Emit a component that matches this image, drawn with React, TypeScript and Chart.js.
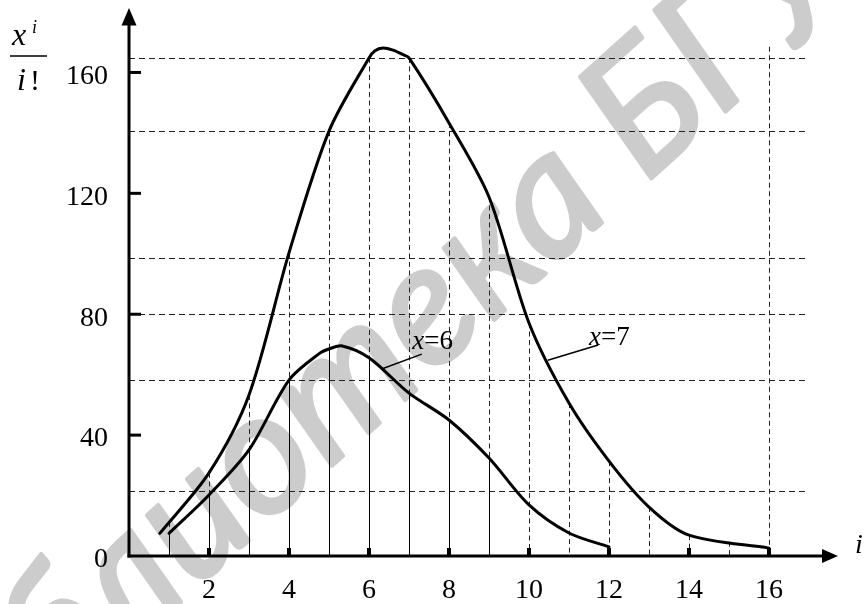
import React, { useEffect, useRef } from "react";
import { Chart, registerables } from "chart.js";

Chart.register(...registerables);

// ---- data ----
// curve x = 7  (values of x^i / i!)
const iX7 = [0.77, 2, 3, 4, 5, 6, 6.15, 6.35, 6.6, 6.85, 7, 8, 9, 10, 11, 12, 13, 14, 16];
const vX7 = [7.5, 27.5, 53.3, 100.3, 140.6, 164.8, 167.2, 168.1, 167.4, 165.9, 164.8, 143.3, 118.8, 77.1, 50.6, 31.4, 16.2, 6.9, 2.6];
// curve x = 6
const iX6 = [1, 2, 3, 4, 4.78, 5, 5.33, 6, 7, 8, 9, 10, 11, 12];
const vX6 = [7.5, 20.2, 35.1, 58.2, 67.2, 68.5, 69.5, 65.6, 53.9, 45, 32.4, 16.9, 7.6, 3];

const xTicks = [2, 4, 6, 8, 10, 12, 14, 16];
const yTicks = [0, 40, 80, 120, 160];
const xTickMarks = [2, 4, 6, 8, 10, 12, 14, 16];
const yTickMarks = [40, 80, 120, 160];

// dashed reference levels and vertical drop lines
const refLevels = [164.8, 140.6, 98.6, 80, 58.2, 21.5];
const gridI = [1, 2, 3, 4, 5, 6, 7, 8, 9, 10, 11, 12, 13, 14, 15, 16];
const refLineEnd = 16.9;
const lastGridTop = 168.5;
const solidBelowUpTo = 9;

const labelX6 = "x=6";
const labelX7 = "x=7";
const watermark = "Библиотека БГУИР";

const SERIF = '"Liberation Serif", "Times New Roman", serif';
const WM_FONT = 'Lato, "Liberation Sans", sans-serif';

function valueAt(xs: number[], ys: number[], v: number): number | null {
  if (v < xs[0] || v > xs[xs.length - 1]) return null;
  for (let k = 0; k < xs.length - 1; k++) {
    if (v >= xs[k] && v <= xs[k + 1]) {
      const t = (v - xs[k]) / (xs[k + 1] - xs[k]);
      return ys[k] + t * (ys[k + 1] - ys[k]);
    }
  }
  return ys[ys.length - 1];
}

function line(ctx: CanvasRenderingContext2D, x1: number, y1: number, x2: number, y2: number) {
  ctx.beginPath();
  ctx.moveTo(x1, y1);
  ctx.lineTo(x2, y2);
  ctx.stroke();
}

function drawMixedLabel(ctx: CanvasRenderingContext2D, text: string, x: number, y: number, size: number) {
  const first = text.slice(0, 1);
  const rest = text.slice(1);
  ctx.textAlign = "left";
  ctx.textBaseline = "alphabetic";
  ctx.font = `italic ${size}px ${SERIF}`;
  ctx.fillText(first, x, y);
  const w = ctx.measureText(first).width;
  ctx.font = `${size}px ${SERIF}`;
  ctx.fillText(rest, x + w, y);
}

const decor = {
  id: "decor",
  beforeDraw(chart: any) {
    const ctx: CanvasRenderingContext2D = chart.ctx;
    ctx.save();
    ctx.fillStyle = "#ffffff";
    ctx.fillRect(0, 0, chart.width, chart.height);
    // watermark
    ctx.font = `italic 172px ${WM_FONT}`;
    const splitAt = watermark.indexOf(" ") + 1;
    const pre = watermark.slice(0, splitAt);
    const w = ctx.measureText(pre).width;
    ctx.translate(645, 184);
    ctx.rotate((-42 * Math.PI) / 180);
    ctx.fillStyle = "#cccccc";
    ctx.strokeStyle = "#cccccc";
    ctx.lineWidth = 4;
    ctx.lineJoin = "round";
    ctx.textBaseline = "alphabetic";
    ctx.textAlign = "left";
    ctx.fillText(watermark, -w, 0);
    ctx.strokeText(watermark, -w, 0);
    ctx.restore();
  },
  beforeDatasetsDraw(chart: any) {
    const ctx: CanvasRenderingContext2D = chart.ctx;
    const xs = chart.scales.x;
    const ys = chart.scales.y;
    ctx.save();
    ctx.lineWidth = 1;
    ctx.strokeStyle = "#222";
    // horizontal dashed levels
    ctx.setLineDash([6, 4]);
    const x0 = xs.getPixelForValue(0);
    const xe = xs.getPixelForValue(refLineEnd);
    for (const v of refLevels) {
      const py = Math.round(ys.getPixelForValue(v)) + 0.5;
      line(ctx, x0, py, xe, py);
    }
    // vertical drop lines
    const y0 = ys.getPixelForValue(0);
    for (const i of gridI) {
      const px = Math.round(xs.getPixelForValue(i)) + 0.5;
      const top = i === gridI[gridI.length - 1] ? lastGridTop : valueAt(iX7, vX7, i);
      const low = valueAt(iX6, vX6, i);
      const pTop = ys.getPixelForValue(top ?? 0);
      if (low !== null && i <= solidBelowUpTo) {
        const pLow = ys.getPixelForValue(low);
        ctx.setLineDash([5, 3.5]);
        ctx.strokeStyle = "#222";
        if (pLow - pTop > 2) line(ctx, px, pTop, px, pLow);
        ctx.setLineDash([]);
        ctx.strokeStyle = "#000";
        line(ctx, px, pLow, px, y0);
      } else {
        ctx.setLineDash([5, 3.5]);
        ctx.strokeStyle = "#222";
        line(ctx, px, pTop, px, y0);
      }
    }
    ctx.restore();
  },
  afterDatasetsDraw(chart: any) {
    const ctx: CanvasRenderingContext2D = chart.ctx;
    const xs = chart.scales.x;
    const ys = chart.scales.y;
    const area = chart.chartArea;
    const ax = xs.getPixelForValue(0);
    const ay = ys.getPixelForValue(0);
    ctx.save();
    ctx.setLineDash([]);
    ctx.strokeStyle = "#000";
    ctx.fillStyle = "#000";
    // axes
    ctx.lineWidth = 3;
    line(ctx, ax, ay + 1.5, ax, area.top - 2);
    line(ctx, ax - 1.5, ay, area.right - 4, ay);
    // arrows
    ctx.beginPath();
    ctx.moveTo(ax, area.top - 16);
    ctx.lineTo(ax - 7.5, area.top + 1.5);
    ctx.lineTo(ax + 7.5, area.top + 1.5);
    ctx.closePath();
    ctx.fill();
    ctx.beginPath();
    ctx.moveTo(area.right + 9, ay);
    ctx.lineTo(area.right - 7, ay - 7);
    ctx.lineTo(area.right - 7, ay + 7);
    ctx.closePath();
    ctx.fill();
    // tick marks
    for (const v of yTickMarks) {
      const py = ys.getPixelForValue(v);
      line(ctx, ax, py, ax + 12, py);
    }
    for (const v of xTickMarks) {
      const px = xs.getPixelForValue(v);
      ctx.fillRect(px - 2, ay - 8, 4, 8);
    }
    // annotation leaders and labels
    ctx.lineWidth = 1.5;
    line(ctx, xs.getPixelForValue(6.3), ys.getPixelForValue(61.8), xs.getPixelForValue(7.32), ys.getPixelForValue(66.8));
    line(ctx, xs.getPixelForValue(10.47), ys.getPixelForValue(64.8), xs.getPixelForValue(11.73), ys.getPixelForValue(69.8));
    drawMixedLabel(ctx, labelX6, xs.getPixelForValue(7.08), ys.getPixelForValue(68.5), 27);
    drawMixedLabel(ctx, labelX7, xs.getPixelForValue(11.5), ys.getPixelForValue(69.8), 27);
    // y-axis title: x^i / i!
    ctx.textBaseline = "alphabetic";
    ctx.textAlign = "left";
    ctx.font = `italic 32px ${SERIF}`;
    ctx.fillText("x", 12, 45);
    ctx.font = `italic 18px ${SERIF}`;
    ctx.fillText("i", 32, 33);
    ctx.lineWidth = 1.5;
    line(ctx, 10, 56, 47, 56);
    ctx.font = `italic 32px ${SERIF}`;
    ctx.fillText("i", 17, 90);
    ctx.font = `30px ${SERIF}`;
    ctx.fillText("!", 30, 90);
    // x-axis title
    ctx.font = `italic 28px ${SERIF}`;
    ctx.fillText("i", 855, 553);
    ctx.restore();
  },
};

export default function App() {
  const ref = useRef<HTMLCanvasElement>(null);
  useEffect(() => {
    const common = {
      borderColor: "#000",
      borderWidth: 3,
      pointRadius: 0,
      fill: false,
      tension: 0.3,
      borderJoinStyle: "round",
      borderCapStyle: "round",
      clip: false,
    };
    const chart = new Chart(ref.current as HTMLCanvasElement, {
      type: "line",
      data: {
        datasets: [
          { label: labelX7, data: iX7.map((x, k) => ({ x, y: vX7[k] })), ...common },
          { label: labelX6, data: iX6.map((x, k) => ({ x, y: vX6[k] })), ...common },
        ],
      },
      options: {
        responsive: false,
        animation: false,
        devicePixelRatio: 1,
        layout: { padding: { top: 24.1, right: 35, left: 0, bottom: 0 } },
        plugins: { legend: { display: false }, tooltip: { enabled: false } },
        scales: {
          x: {
            type: "linear",
            min: 0,
            max: 17.5,
            grid: { display: false, drawTicks: false },
            border: { display: false },
            afterBuildTicks: (s: any) => {
              s.ticks = xTicks.map((v) => ({ value: v }));
            },
            afterFit: (s: any) => {
              s.height = 48;
              s.paddingLeft = 0;
              s.paddingRight = 0;
            },
            ticks: {
              color: "#000",
              font: { family: SERIF, size: 28, lineHeight: 1 },
              padding: 21,
              maxRotation: 0,
              autoSkip: false,
            },
          },
          y: {
            type: "linear",
            min: 0,
            max: 176,
            grid: { display: false, drawTicks: false },
            border: { display: false },
            afterBuildTicks: (s: any) => {
              s.ticks = yTicks.map((v) => ({ value: v }));
            },
            afterFit: (s: any) => {
              s.width = 129;
              s.paddingTop = 0;
              s.paddingBottom = 0;
            },
            ticks: {
              color: "#000",
              font: { family: SERIF, size: 28, lineHeight: 1 },
              padding: 21,
              labelOffset: 4,
              autoSkip: false,
            },
          },
        },
      },
      plugins: [decor],
    } as any);
    return () => chart.destroy();
  }, []);
  return (
    <div style={{ position: "fixed", left: 0, top: 0, width: 864, height: 604, background: "#fff" }}>
      <canvas ref={ref} width={864} height={604} style={{ display: "block", width: 864, height: 604 }} />
    </div>
  );
}
